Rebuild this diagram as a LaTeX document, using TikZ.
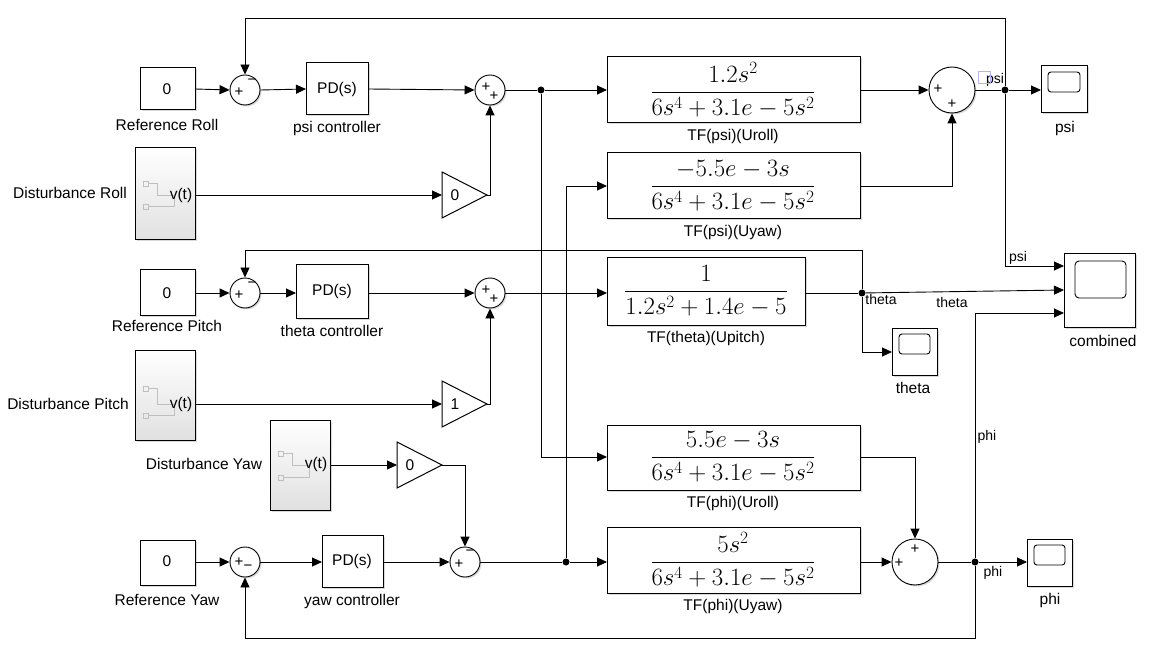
\documentclass[tikz,border=0pt]{standalone}
\usepackage{amsmath}
\usepackage{fontspec}
\setmainfont{Liberation Sans}
\usetikzlibrary{arrows.meta,shadows,shapes.geometric}
\begin{document}
\begin{tikzpicture}[x=1pt,y=-1pt,line width=0.9pt,
  >={Triangle[length=10pt,width=9pt]},
  every node/.style={font=\fontsize{15.5}{18}\selectfont},
  blk/.style={draw,fill=white,line width=1pt,inner sep=0pt,drop shadow={shadow xshift=1.5pt,shadow yshift=-1.5pt,opacity=0.3}},
  sum/.style={draw,circle,fill=white,inner sep=0pt,drop shadow={shadow xshift=1.5pt,shadow yshift=-1.5pt,opacity=0.3}},
  gainsh/.style={draw,fill=white,line width=1pt},
  sig/.style={draw,line width=1pt,top color=white,bottom color=black!12,drop shadow={shadow xshift=1.5pt,shadow yshift=-1.5pt,opacity=0.3}},
  dot/.style={circle,fill,inner sep=0pt,minimum size=7pt},
  lab/.style={font=\fontsize{14}{16}\selectfont},
  sgn/.style={font=\fontsize{15}{15}\selectfont,inner sep=0pt},
  tf/.style={font=\fontsize{26}{30}\selectfont}]
\useasboundingbox (0,0) rectangle (1151,652);

% ===== Roll row =====
\draw[blk] (140,68) rectangle (195,110); \node (rr) at (167,89) {0};
\coordinate (rrR) at (195,89);
\node at (167,125) {Reference Roll};
\node[sum,minimum size=30pt] (s1) at (245,90) {};
\node[sgn] at (239,92) {+}; \node[sgn] at (252,82) {\textminus};
\draw[blk] (306,63) rectangle (368,115); \node (pd1) at (337,89) {PD(s)};
\coordinate (pd1L) at (306,89); \coordinate (pd1R) at (368,89);
\node at (337,128) {psi controller};
\node[sum,minimum size=30pt] (s2) at (490,90) {};
\node[sgn] at (486,87) {+}; \node[sgn] at (494,96) {+};
\node[dot] (j1) at (541,90) {};
\draw[blk] (607,57) rectangle (860,123);
\node[tf] (tf1) at (733,90) {$\dfrac{1.2s^2}{6s^4+3.1e-5s^2}$};
\coordinate (tf1L) at (607,90); \coordinate (tf1R) at (860,90);
\node at (733,136) {TF(psi)(Uroll)};
\node[sum,minimum size=46pt] (spsi) at (952,90) {};
\node[sgn] at (938,89) {+}; \node[sgn] at (952,104) {+};
\node[dot] (jpsi) at (1005,90) {};
\node[lab] at (995,80) {psi};
\draw[blue!30,line width=0.6pt] (978,71) rectangle (990,83);
\draw[blk] (1041,66) rectangle (1087,113);
\draw[line width=0.9pt,rounded corners=3pt] (1048,72) rectangle (1080,92);
\coordinate (scpsi) at (1041,90);
\node at (1065,128) {psi};

\draw[sig] (135,148) rectangle (195,240);
\draw[black!25,line width=0.5pt] (143,181) rectangle (148,186) (148,183) -- (157,183) -- (157,195) -- (174,195) (143,204) rectangle (148,209) (148,206) -- (174,206) -- (174,197);
\node at (181,195) {v(t)};
\coordinate (drR) at (195,195);
\node at (70,193) {Disturbance Roll};
\draw[gainsh] (442,172) -- (487,195) -- (442,218) -- cycle; \node at (455,195) {0};
\coordinate (g1L) at (442,195); \coordinate (g1R) at (487,195);

\draw[blk] (607,153) rectangle (860,219);
\node[tf] (tf2) at (733,186) {$\dfrac{-5.5e-3s}{6s^4+3.1e-5s^2}$};
\coordinate (tf2L) at (607,186); \coordinate (tf2R) at (860,186);
\node at (733,232) {TF(psi)(Uyaw)};

% ===== Pitch row =====
\draw[blk] (140,270) rectangle (195,315); \node at (167,293) {0};
\coordinate (rpR) at (195,293);
\node at (167,326) {Reference Pitch};
\node[sum,minimum size=30pt] (s3) at (245,293) {};
\node[sgn] at (239,295) {+}; \node[sgn] at (252,285) {\textminus};
\draw[blk] (296,265) rectangle (368,318); \node at (332,291) {PD(s)};
\coordinate (pd2L) at (296,293); \coordinate (pd2R) at (368,293);
\node at (332,331) {theta controller};
\node[sum,minimum size=30pt] (s4) at (490,293) {};
\node[sgn] at (486,290) {+}; \node[sgn] at (494,299) {+};
\draw[blk] (607,258) rectangle (805,325);
\node[tf] at (706,291) {$\dfrac{1}{1.2s^2+1.4e-5}$};
\coordinate (tf3L) at (607,293); \coordinate (tf3R) at (805,293);
\node at (706,338) {TF(theta)(Upitch)};
\node[dot] (jth) at (862,293) {};
\node[lab] at (881,299) {theta};
\node[lab] at (952,302) {theta};
\draw[blk] (1064,254) rectangle (1135,327);
\draw[rounded corners=4pt] (1075,261) rectangle (1126,298);
\coordinate (c1) at (1064,266); \coordinate (c2) at (1064,290); \coordinate (c3) at (1064,313);
\node at (1103,341) {combined};
\draw[blk] (892,328) rectangle (937,375);
\draw[rounded corners=3pt] (899,334) rectangle (930,354);
\coordinate (scth) at (892,352);
\node at (913,388) {theta};

\draw[sig] (135,350) rectangle (195,440);
\draw[black!25,line width=0.5pt] (143,386) rectangle (148,391) (148,388) -- (157,388) -- (157,404) -- (174,404) (143,413) rectangle (148,418) (148,415) -- (174,415) -- (174,406);
\node at (181,404) {v(t)};
\coordinate (dpR) at (195,404);
\node at (68,404) {Disturbance Pitch};
\draw[gainsh] (442,381) -- (487,404) -- (442,427) -- cycle; \node at (455,404) {1};
\coordinate (g2L) at (442,404); \coordinate (g2R) at (487,404);

% ===== Yaw =====
\draw[sig] (270,420) rectangle (330,510);
\draw[black!25,line width=0.5pt] (278,451) rectangle (283,456) (283,453) -- (292,453) -- (292,465) -- (309,465) (278,475) rectangle (283,480) (283,477) -- (309,477) -- (309,467);
\node at (316,464) {v(t)};
\coordinate (dyR) at (330,465);
\node at (204,464) {Disturbance Yaw};
\draw[gainsh] (397,442) -- (442,465) -- (397,488) -- cycle; \node at (410,465) {0};
\coordinate (g3L) at (397,465); \coordinate (g3R) at (442,465);

\draw[blk] (607,425) rectangle (860,490);
\node[tf] at (733,457) {$\dfrac{5.5e-3s}{6s^4+3.1e-5s^2}$};
\coordinate (tf4L) at (607,457); \coordinate (tf4R) at (860,457);
\node at (733,503) {TF(phi)(Uroll)};

\draw[blk] (140,540) rectangle (195,585); \node at (167,561) {0};
\coordinate (ryR) at (195,562);
\node at (167,600) {Reference Yaw};
\node[sum,minimum size=30pt] (s5) at (245,562) {};
\node[sgn] at (239,562) {+}; \node[sgn] at (248,568) {\textminus};
\draw[blk] (322,535) rectangle (383,587); \node at (352,561) {PD(s)};
\coordinate (pd3L) at (322,562); \coordinate (pd3R) at (383,562);
\node at (352,601) {yaw controller};
\node[sum,minimum size=30pt] (s6) at (465,562) {};
\node[sgn] at (459,564) {+}; \node[sgn] at (470,553) {\textminus};
\node[dot] (j2) at (566,562) {};
\draw[blk] (607,527) rectangle (860,593);
\node[tf] at (733,560) {$\dfrac{5s^2}{6s^4+3.1e-5s^2}$};
\coordinate (tf5L) at (607,562); \coordinate (tf5R) at (860,562);
\node at (733,606) {TF(phi)(Uyaw)};
\node[sum,minimum size=46pt] (sphi) at (915,562) {};
\node[sgn] at (915,549) {+}; \node[sgn] at (899,563) {+};
\node[dot] (jphi) at (975,562) {};
\node[lab] at (993,573) {phi};
\node[lab] at (987,437) {phi};
\node[lab] at (1018,258) {psi};
\draw[blk] (1027,539) rectangle (1072,586);
\draw[rounded corners=3pt] (1034,545) rectangle (1065,565);
\coordinate (scphi) at (1027,562);
\node at (1050,600) {phi};

% ===== connectors =====
\draw[->] (rrR) -- (s1.west);
\draw[->] (s1.east) -- (pd1L);
\draw[->] (pd1R) -- (s2.west);
\draw (s2.east) -- (j1);
\draw[->] (j1) -- (tf1L);
\draw[->] (tf1R) -- (spsi.west);
\draw (spsi.east) -- (jpsi);
\draw[->] (jpsi) -- (scpsi);
\draw[->] (jpsi) |- (245,18) -- (s1.north);
\draw[->] (jpsi) |- (c1);
\draw[->] (drR) -- (g1L);
\draw[->] (g1R) -| (s2.south);
\draw[->] (tf2R) -| (spsi.south);
\draw[->] (j2) |- (tf2L);
\draw[->] (j1) |- (tf4L);

\draw[->] (rpR) -- (s3.west);
\draw[->] (s3.east) -- (pd2L);
\draw[->] (pd2R) -- (s4.west);
\draw[->] (s4.east) -- (tf3L);
\draw (tf3R) -- (jth);
\draw[->] (jth) -- (c2);
\draw[->] (jth) |- (scth);
\draw[->] (jth) |- (245,250) -- (s3.north);
\draw[->] (dpR) -- (g2L);
\draw[->] (g2R) -| (s4.south);

\draw[->] (dyR) -- (g3L);
\draw[->] (g3R) -| (s6.north);
\draw[->] (ryR) -- (s5.west);
\draw[->] (s5.east) -- (pd3L);
\draw[->] (pd3R) -- (s6.west);
\draw (s6.east) -- (j2);
\draw[->] (j2) -- (tf5L);
\draw[->] (tf5R) -- (sphi.west);
\draw[->] (tf4R) -| (sphi.north);
\draw (sphi.east) -- (jphi);
\draw[->] (jphi) -- (scphi);
\draw[->] (jphi) |- (c3);
\draw[->] (jphi) |- (245,638) -- (s5.south);
\end{tikzpicture}
\end{document}
